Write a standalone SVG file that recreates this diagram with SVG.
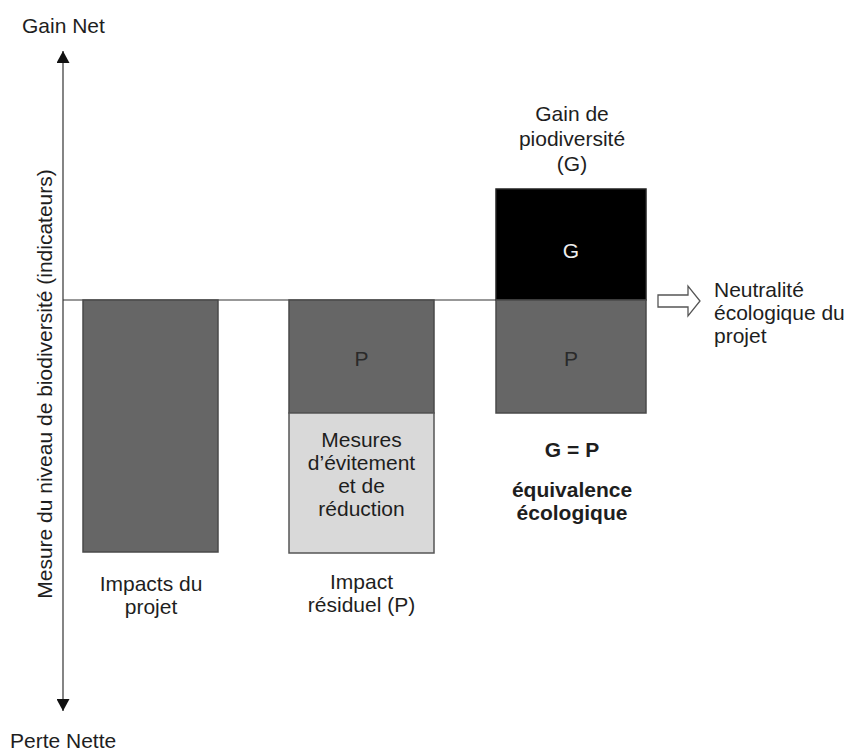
<svg xmlns="http://www.w3.org/2000/svg" width="854" height="752" viewBox="0 0 854 752">
<style>
text{font-family:"Liberation Sans",Arial,sans-serif;font-size:21px;fill:#1e1e1e}
.c{text-anchor:middle}
.b{font-weight:bold}
.dark{fill:#666666;stroke:#4a4a4a;stroke-width:1.5}
.light{fill:#d9d9d9;stroke:#555;stroke-width:1.5}
.blk{fill:#000;stroke:#222;stroke-width:1.5}
.ln{stroke:#333;stroke-width:1.2;fill:none}
</style>
<defs>
<marker id="ah" viewBox="0 0 12 13" refX="12" refY="6.5" markerWidth="12" markerHeight="13" markerUnits="userSpaceOnUse" orient="auto">
<path d="M0,0 L12,6.5 L0,13 Z" fill="#111"/>
</marker>
</defs>
<g id="axes">
<line class="ln" x1="63" y1="380" x2="63" y2="51" marker-end="url(#ah)"/>
<line class="ln" x1="63" y1="380" x2="63" y2="711" marker-end="url(#ah)"/>
<text x="22" y="33">Gain Net</text>
<text x="10" y="748">Perte Nette</text>
<text class="c" transform="translate(52,384) rotate(-90)">Mesure du niveau de biodiversité (indicateurs)</text>
</g>
<g id="connectors">
<line class="ln" x1="63" y1="300" x2="496" y2="300"/>
<path d="M658,295 H688 V286 L700,301 L688,316 V307 H658 Z" fill="#fff" stroke="#555" stroke-width="1.3"/>
</g>
<g id="impacts">
<rect class="dark" x="83" y="300" width="135" height="252"/>
<text class="c" x="151" y="591">Impacts du</text>
<text class="c" x="151" y="614">projet</text>
</g>
<g id="residuel">
<rect class="dark" x="289" y="300" width="145" height="113"/>
<text class="c" x="361.5" y="366" style="fill:#2a2a2a">P</text>
<rect class="light" x="289" y="413" width="145" height="140"/>
<text class="c" x="361.5" y="447">Mesures</text>
<text class="c" x="361.5" y="470">d’évitement</text>
<text class="c" x="361.5" y="493">et de</text>
<text class="c" x="361.5" y="516">réduction</text>
<text class="c" x="361.5" y="589">Impact</text>
<text class="c" x="361.5" y="612">résiduel (P)</text>
</g>
<g id="gain">
<text class="c" x="572" y="121">Gain de</text>
<text class="c" x="572" y="146">piodiversité</text>
<text class="c" x="572" y="171">(G)</text>
<rect class="blk" x="496" y="189" width="150" height="111"/>
<text class="c" x="571" y="258" style="fill:#eee">G</text>
<rect class="dark" x="496" y="300" width="150" height="113"/>
<text class="c" x="571" y="366" style="fill:#2a2a2a">P</text>
<text class="c b" x="572" y="457">G = P</text>
<text class="c b" x="572" y="497">équivalence</text>
<text class="c b" x="572" y="520">écologique</text>
</g>
<g id="neutralite">
<text x="714" y="297">Neutralité</text>
<text x="714" y="320">écologique du</text>
<text x="714" y="343">projet</text>
</g>
</svg>
